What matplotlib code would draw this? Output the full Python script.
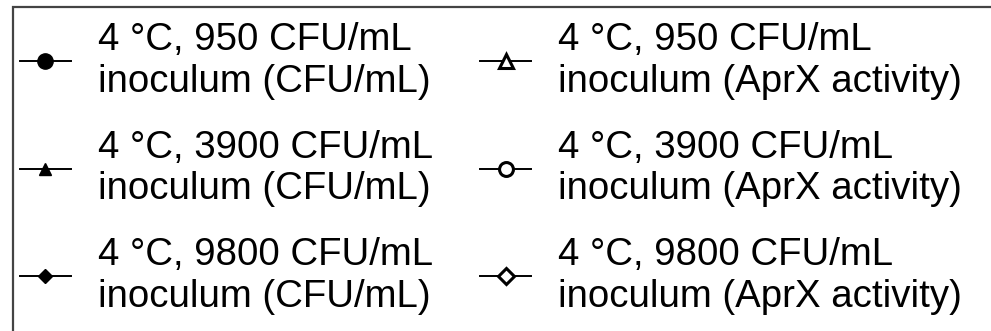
import matplotlib.pyplot as plt
from matplotlib.patches import Rectangle

plt.rcParams['font.family'] = ['Liberation Sans', 'DejaVu Sans']

# series shown in the legend
inoculum = ['950', '3900', '9800']
cfu_markers = ['o', '^', 'D']
aprx_markers = ['^', 'o', 'D']
cfu_sizes = [11, 9, 7]
aprx_sizes = [10, 10, 8]


def main():
    W, H = 991, 331
    fig = plt.figure(figsize=(W / 100, H / 100), dpi=100)
    ax = fig.add_axes([0, 0, 1, 1])
    ax.set_axis_off()

    handles = []
    for n, m, s in zip(inoculum, cfu_markers, cfu_sizes):
        h, = ax.plot([], [], color='black', lw=1.4, marker=m, markersize=s,
                     markerfacecolor='black', markeredgecolor='black',
                     label=f'4 °C, {n} CFU/mL\ninoculum (CFU/mL)')
        handles.append(h)
    for n, m, s in zip(inoculum, aprx_markers, aprx_sizes):
        h, = ax.plot([], [], color='black', lw=1.4, marker=m, markersize=s,
                     markerfacecolor='white', markeredgecolor='black', markeredgewidth=2.2,
                     label=f'4 °C, {n} CFU/mL\ninoculum (AprX activity)')
        handles.append(h)

    # legend box, cut off on the right and bottom
    fig.patches.append(Rectangle((13 / W, -0.1), 2, 1 - 7 / H + 0.1,
                                 transform=fig.transFigure, fill=False,
                                 edgecolor='#444444', linewidth=1.6))

    fig.legend(handles=handles, ncol=2, loc='upper left',
               bbox_to_anchor=(20 / W, 1 - 22 / H), borderaxespad=0,
               fontsize=27.6, frameon=False,
               handlelength=1.33, handletextpad=0.7, columnspacing=1.23,
               labelspacing=0.78, borderpad=0)

    fig.savefig('out.png', dpi=100)


if __name__ == '__main__':
    main()
